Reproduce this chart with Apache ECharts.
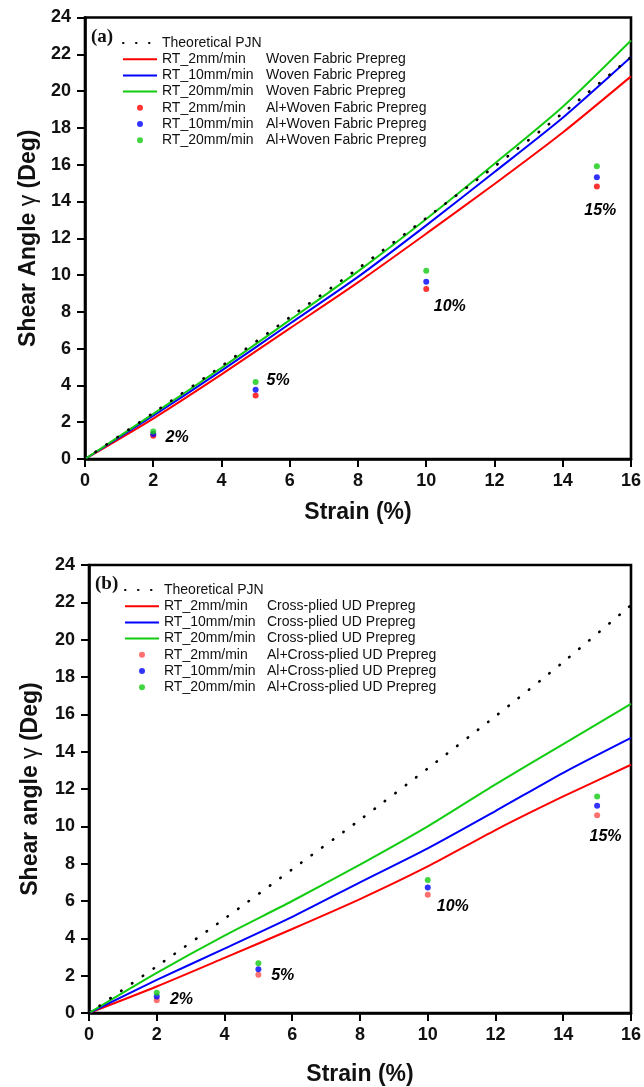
<!DOCTYPE html>
<html>
<head>
<meta charset="UTF-8">
<title>Shear angle vs strain</title>
<script src="https://cdn.jsdelivr.net/npm/echarts@6/dist/echarts.min.js"></script>
<style>
  html, body { margin: 0; padding: 0; background: #fff; }
  #chart { width: 644px; height: 1087px; }
</style>
</head>
<body>
<div id="chart"></div>
<script>
// strain (%) sampled along the curves
var strain = [0, 2, 4, 6, 8, 10, 12, 14, 16];
var pjnAngle = [0, 2.5, 5.05, 7.7, 10.35, 13.1, 15.9, 18.8, 21.85];

// (a) woven fabric prepreg
var wovenRed = [0, 2.2, 4.6, 7.1, 9.6, 12.25, 14.95, 17.75, 20.8];
var wovenBlue = [0, 2.35, 4.8, 7.35, 9.9, 12.7, 15.6, 18.55, 21.85];
var wovenGreen = [0, 2.45, 4.95, 7.55, 10.2, 13.05, 16.05, 19.15, 22.75];

// (b) cross-plied UD prepreg
var crossRed = [0, 1.42, 2.95, 4.5, 6.1, 7.85, 9.8, 11.6, 13.3];
var crossBlue = [0, 1.77, 3.45, 5.15, 7.0, 8.82, 10.82, 12.87, 14.74];
var crossGreen = [0, 2.15, 4.15, 6.0, 7.95, 10.0, 12.25, 14.4, 16.56];

// Al+ prepreg test points
var testStrain = [2, 5, 10, 15];
var alWovenRed = [1.27, 3.45, 9.24, 14.81];
var alWovenBlue = [1.36, 3.76, 9.64, 15.32];
var alWovenGreen = [1.5, 4.18, 10.24, 15.91];
var alCrossRed = [0.68, 2.05, 6.33, 10.6];
var alCrossBlue = [0.88, 2.35, 6.72, 11.1];
var alCrossGreen = [1.08, 2.66, 7.13, 11.6];

// percent annotations
var pctText = ['2%', '5%', '10%', '15%'];
var pctAX = [2.7, 5.66, 10.69, 15.1];
var pctAY = [1.17, 4.24, 8.3, 13.5];
var pctBX = [2.73, 5.72, 10.74, 15.25];
var pctBY = [0.71, 2.0, 5.7, 9.45];

var RED = '#ff0000', BLUE = '#0000ff', GREEN = '#11cc11', LRED = '#ff4d4d';
var SANS = 'Liberation Sans, Arial, sans-serif';

function pairs(xs, ys) {
    return xs.map(function (x, i) { return [x, ys[i]]; });
}

function curve(name, idx, ys, color, dotted) {
    return {
        name: name, type: 'line', xAxisIndex: idx, yAxisIndex: idx,
        data: pairs(strain, ys), symbol: 'none', smooth: 0.25,
        lineStyle: dotted
            ? { color: '#000', width: 2.6, type: [0.5, 12.5], cap: 'round' }
            : { color: color, width: 2 },
        itemStyle: { color: dotted ? '#000' : color },
        z: dotted ? 3 : 2
    };
}

function points(name, idx, ys, color) {
    return {
        name: name, type: 'scatter', xAxisIndex: idx, yAxisIndex: idx,
        data: pairs(testStrain, ys), symbol: 'circle', symbolSize: 6,
        itemStyle: { color: color }, z: 4
    };
}

function pctLabels(idx, xs, ys) {
    return {
        type: 'scatter', xAxisIndex: idx, yAxisIndex: idx, symbolSize: 1,
        silent: true, itemStyle: { opacity: 0 },
        data: xs.map(function (x, i) { return { value: [x, ys[i]], name: pctText[i] }; }),
        label: {
            show: true, position: 'inside', formatter: '{b}', opacity: 1,
            textBorderWidth: 0, fontFamily: SANS, fontSize: 16,
            fontWeight: 'bold', fontStyle: 'italic', color: '#000'
        }
    };
}

var woven = 'Woven Fabric Prepreg', cross = 'Cross-plied UD Prepreg';
var namesA = ['Theoretical PJN',
    'RT_2mm/min\t' + woven, 'RT_10mm/min\t' + woven, 'RT_20mm/min\t' + woven,
    'RT_2mm/min\tAl+' + woven, 'RT_10mm/min\tAl+' + woven, 'RT_20mm/min\tAl+' + woven];
var namesB = ['Theoretical PJN',
    'RT_2mm/min\t' + cross, 'RT_10mm/min\t' + cross, 'RT_20mm/min\t' + cross,
    'RT_2mm/min\tAl+' + cross, 'RT_10mm/min\tAl+' + cross, 'RT_20mm/min\tAl+' + cross];

function legend(names, left, top, colW) {
    return {
        orient: 'vertical', left: left, top: top, padding: 0, itemGap: 2.2,
        itemWidth: 34, itemHeight: 6,
        // first four entries are lines: hide the marker dot on their icon
        data: names.map(function (n, i) {
            return i < 4 ? { name: n, itemStyle: { opacity: 0 } } : { name: n };
        }),
        formatter: function (n) {
            var p = n.split('\t');
            return p.length > 1 ? '{a|' + p[0] + '}{b|' + p[1] + '}' : '{b|' + n + '}';
        },
        textStyle: {
            fontFamily: SANS, fontSize: 14, color: '#111',
            rich: {
                a: { fontFamily: SANS, fontSize: 14, color: '#111', width: colW, lineHeight: 16 },
                b: { fontFamily: SANS, fontSize: 14, color: '#111', lineHeight: 16 }
            }
        }
    };
}

function xAxis(idx, gap) {
    return {
        gridIndex: idx, type: 'value', min: 0, max: 16, interval: 2,
        name: 'Strain (%)', nameLocation: 'middle', nameGap: gap,
        nameTextStyle: { fontFamily: SANS, fontSize: 23, fontWeight: 'bold', color: '#111' },
        axisLine: { onZero: false, lineStyle: { color: '#000', width: 2.6 } },
        axisTick: { inside: false, length: 8, lineStyle: { color: '#000', width: 2 } },
        axisLabel: { margin: 13, fontFamily: SANS, fontSize: 18, fontWeight: 'bold', color: '#111' },
        splitLine: { show: false }
    };
}

function yAxis(idx, title, gap) {
    return {
        gridIndex: idx, type: 'value', min: 0, max: 24, interval: 2,
        name: '{t|' + title + ' }{g|γ}{t| (Deg)}', nameLocation: 'middle', nameGap: gap,
        nameTextStyle: {
            rich: {
                t: { fontFamily: SANS, fontSize: 23, fontWeight: 'bold', color: '#111' },
                g: { fontFamily: SANS, fontSize: 23, fontWeight: 'normal', color: '#111' }
            }
        },
        axisLine: { lineStyle: { color: '#000', width: 2.6 } },
        axisTick: { inside: false, length: 8, lineStyle: { color: '#000', width: 2 } },
        axisLabel: { margin: 14, fontFamily: SANS, fontSize: 18, fontWeight: 'bold', color: '#111' },
        splitLine: { show: false }
    };
}

var gridStyle = { show: true, borderColor: '#000', borderWidth: 2.6, backgroundColor: 'transparent' };

var option = {
    animation: false,
    backgroundColor: '#fff',
    title: [
        { text: '(a)', left: 86, top: 23, textStyle: { fontFamily: 'Liberation Serif, Times New Roman, serif', fontSize: 19, fontWeight: 'bold', color: '#111' } },
        { text: '(b)', left: 90, top: 570, textStyle: { fontFamily: 'Liberation Serif, Times New Roman, serif', fontSize: 19, fontWeight: 'bold', color: '#111' } }
    ],
    legend: [legend(namesA, 122, 36, 104), legend(namesB, 124, 583, 103)],
    grid: [
        Object.assign({ left: 85, top: 17.5, width: 551, height: 441.5 }, gridStyle),
        Object.assign({ left: 89, top: 565, width: 550, height: 448 }, gridStyle)
    ],
    xAxis: [xAxis(0, 42), xAxis(1, 50)],
    yAxis: [yAxis(0, 'Shear Angle', 45), yAxis(1, 'Shear angle', 47)],
    series: [
        curve(namesA[0], 0, pjnAngle, '#000', true),
        curve(namesA[1], 0, wovenRed, RED),
        curve(namesA[2], 0, wovenBlue, BLUE),
        curve(namesA[3], 0, wovenGreen, GREEN),
        points(namesA[4], 0, alWovenRed, RED),
        points(namesA[5], 0, alWovenBlue, BLUE),
        points(namesA[6], 0, alWovenGreen, GREEN),
        pctLabels(0, pctAX, pctAY),

        curve(namesB[0], 1, pjnAngle, '#000', true),
        curve(namesB[1], 1, crossRed, RED),
        curve(namesB[2], 1, crossBlue, BLUE),
        curve(namesB[3], 1, crossGreen, GREEN),
        points(namesB[4], 1, alCrossRed, LRED),
        points(namesB[5], 1, alCrossBlue, BLUE),
        points(namesB[6], 1, alCrossGreen, GREEN),
        pctLabels(1, pctBX, pctBY)
    ]
};

var chart = echarts.init(document.getElementById('chart'));
chart.setOption(option);
</script>
</body>
</html>
